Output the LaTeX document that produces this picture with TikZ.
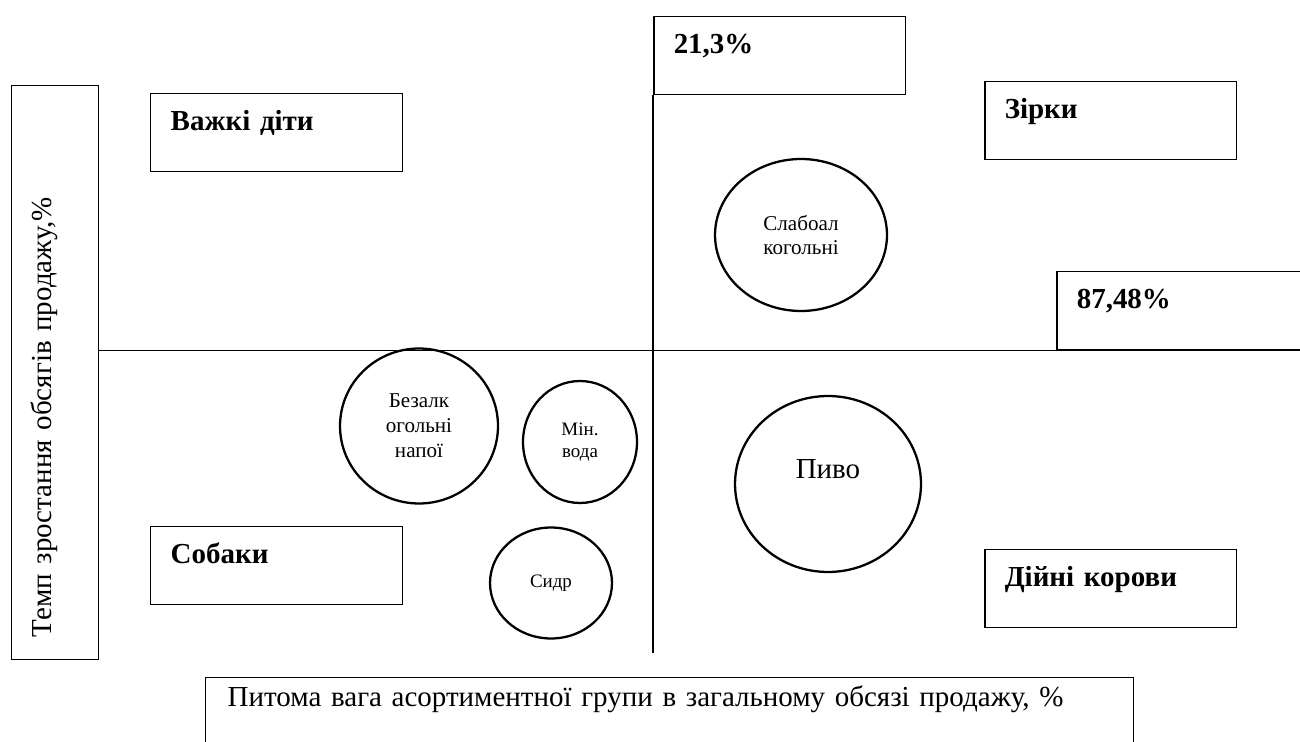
\documentclass[tikz,border=0pt]{standalone}
\usepackage{fontspec}
\setmainfont{Liberation Serif}
\usetikzlibrary{shapes.geometric}

\begin{document}
\begin{tikzpicture}[x = 0.02cm, y = -0.02cm,
		quad/.style     = {draw,
			rectangle,
			anchor         = north west,
			align          = left,
			text width     = 4.24cm,
			inner xsep     = 0.4cm,
			inner ysep     = 0pt,
			text height    = 0.74cm,
			text depth     = 0.82cm,
			line width     = 0.85pt,
			font = \fontsize{16.5}{19}\selectfont \bfseries},
		axislabel/.style = {draw,
			rectangle,
			anchor         = north west,
			align          = left,
			inner xsep     = 0.44cm,
			inner ysep     = 0pt,
			line width     = 0.85pt,
			font = \fontsize{16.5}{19}\selectfont},
		prod/.style     = {draw,
			ellipse,
			inner sep      = 0pt,
			align          = center,
			line width     = 1.3pt,
			font = \fontsize{12}{13.7}\selectfont},
		divider/.style  = {line width = 0.6pt}]
		
		\useasboundingbox (0,0) rectangle (1300,742);
		\clip (0,0) rectangle (1300,742);
		
		% quadrant boxes
		\node[quad] (hard)  at (150,93)   {Важкі діти};
		\node[quad] (stars) at (984,81)   {Зірки};
		\node[quad] (rate)  at (653,16)   {21,3\%};
		\node[quad] (share) at (1056,271) {87,48\%};
		\node[quad] (dogs)  at (150,526)  {Собаки};
		\node[quad] (cows)  at (984,549)  {Дійні корови};
		
		% axis captions
		\node[axislabel, rotate=90, text width=10.6cm,
			text height=0.8cm, text depth=0.94cm] (growth) at (11,660)
		{Темп зростання обсягів продажу,\%};
		
		\node[axislabel, text width=17.68cm,
			text height=0.58cm, text depth=1.5cm] (weight) at (205,677)
		{Питома вага асортиментної групи в загальному обсязі продажу, \%};
		
		% assortment groups
		\node[prod, minimum width=3.44cm, minimum height=3.04cm] (light) at (801,235)
		{Слабоал\\когольні};
		\node[prod, minimum width=3.16cm, minimum height=3.1cm,
			font=\fontsize{12}{14.2}\selectfont] (soft) at (419,426)
		{Безалк\\огольні\\напої};
		\node[prod, minimum width=2.28cm, minimum height=2.44cm,
			font=\fontsize{10.8}{12.5}\selectfont] (water) at (580,442)
		{Мін.\\вода};
		\node[prod, minimum width=2.44cm, minimum height=2.22cm,
			font=\fontsize{10.8}{12.5}\selectfont] (cider) at (551,583)
		{Сидр};
		\node[prod, minimum width=3.72cm, minimum height=3.52cm,
			font=\fontsize{16.5}{19}\selectfont, text depth=0.6cm] (beer) at (828,484)
		{Пиво};
		
		% dividing lines
		\coordinate (vend) at (653,653);
		\draw[divider] (growth.south |- share.south) -- (share.south east);
		\draw[divider] (rate.south west) -- (rate.south west |- vend);
		
	\end{tikzpicture}
\end{document}
